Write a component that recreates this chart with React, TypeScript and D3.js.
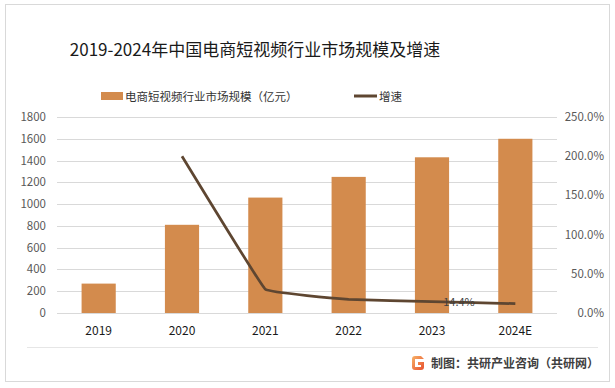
import React from "react";
import * as d3 from "d3";

const categories = ["2019", "2020", "2021", "2022", "2023", "2024E"];
const marketSize = [270, 810, 1060, 1250, 1430, 1600];
const growth = [null, 2.0, 0.302, 0.175, 0.144, 0.119];
const leftTicks = [0, 200, 400, 600, 800, 1000, 1200, 1400, 1600, 1800];
const rightTicks = [0, 0.5, 1.0, 1.5, 2.0, 2.5];
const labeledIndex = [4];

const W = 615, H = 388;
const plot = { left: 57, right: 557, top: 117, bottom: 313 };
const barColor = "#D38B4D";
const lineColor = "#5E4631";
const font = "'Microsoft YaHei', 'Noto Sans CJK SC', 'DejaVu Sans', sans-serif";

export default function App() {
  const x = d3.scaleBand().domain(categories).range([plot.left, plot.right]).paddingInner(0.59).paddingOuter(0.295);
  const yL = d3.scaleLinear().domain([0, 1800]).range([plot.bottom, plot.top]);
  const yR = d3.scaleLinear().domain([0, 2.5]).range([plot.bottom, plot.top]);
  const pts = categories
    .map((c, i) => ({ c, v: growth[i], i }))
    .filter((d) => d.v !== null) as { c: string; v: number; i: number }[];
  const line = d3
    .line<{ c: string; v: number }>()
    .x((d) => (x(d.c) as number) + x.bandwidth() / 2)
    .y((d) => yR(d.v))
    .curve(d3.curveCardinal.tension(0.85));
  const fmtPct = d3.format(".1%");

  return (
    <svg width={W} height={H} style={{ position: "absolute", left: 0, top: 0, fontFamily: font }}>
      <rect x={0} y={0} width={W} height={H} fill="#fff" />
      <rect x={5.5} y={4.5} width={604} height={377} fill="none" stroke="#D9D9D9" strokeWidth={1} />
      <text x={255} y={56} textAnchor="middle" fontSize={17} fill="#1a1a1a">
        2019-2024年中国电商短视频行业市场规模及增速
      </text>
      {/* legend */}
      <rect x={101} y={92} width={22} height={8} fill={barColor} />
      <text x={125} y={100.5} fontSize={11.5} fill="#333">电商短视频行业市场规模（亿元）</text>
      <line x1={354} x2={377} y1={96} y2={96} stroke={lineColor} strokeWidth={3} />
      <text x={379} y={100.5} fontSize={11.5} fill="#333">增速</text>
      {/* grid */}
      {leftTicks.map((t) => (
        <line key={t} x1={plot.left} x2={plot.right} y1={Math.round(yL(t)) + 0.5} y2={Math.round(yL(t)) + 0.5} stroke="#D9D9D9" />
      ))}
      {leftTicks.map((t) => (
        <text key={"l" + t} x={46} y={yL(t) + 4} textAnchor="end" fontSize={11.5} fill="#595959">{t}</text>
      ))}
      {rightTicks.map((t) => (
        <text key={"r" + t} x={604} y={yR(t) + 4} textAnchor="end" fontSize={11.5} fill="#595959">{fmtPct(t)}</text>
      ))}
      {categories.map((c, i) => (
        <rect key={c} x={x(c)} y={yL(marketSize[i])} width={x.bandwidth()} height={plot.bottom - yL(marketSize[i])} fill={barColor} />
      ))}
      {categories.map((c) => (
        <text key={"x" + c} x={(x(c) as number) + x.bandwidth() / 2} y={335} textAnchor="middle" fontSize={12} fill="#1a1a1a">{c}</text>
      ))}
      <path d={line(pts) || ""} fill="none" stroke={lineColor} strokeWidth={2.75} strokeLinejoin="round" />
      {labeledIndex.map((i) => (
        <text key={"lab" + i} x={(x(categories[i]) as number) + x.bandwidth() / 2 + 27} y={yR(growth[i] as number) + 4} textAnchor="middle" fontSize={11} fill="#404040">
          {fmtPct(growth[i] as number)}
        </text>
      ))}
      {/* footer */}
      <line x1={27} x2={598} y1={347.5} y2={347.5} stroke="#E6E6E6" />
      <defs>
        <linearGradient id="lg" x1="0" y1="0" x2="1" y2="1">
          <stop offset="0" stopColor="#F7B267" />
          <stop offset="1" stopColor="#E8502E" />
        </linearGradient>
      </defs>
      <path d="M421,356 h-6 a3,3 0 0 0 -3,3 v8 a3,3 0 0 0 3,3 h6 a3,3 0 0 0 3,-3 v-5 h-6 v3 h3 v2 h-6 v-8 h9 z" fill="url(#lg)" />
      <text x={431} y={368} fontSize={12} fill="#404040" fontWeight="bold">制图：共研产业咨询（共研网）</text>
    </svg>
  );
}
